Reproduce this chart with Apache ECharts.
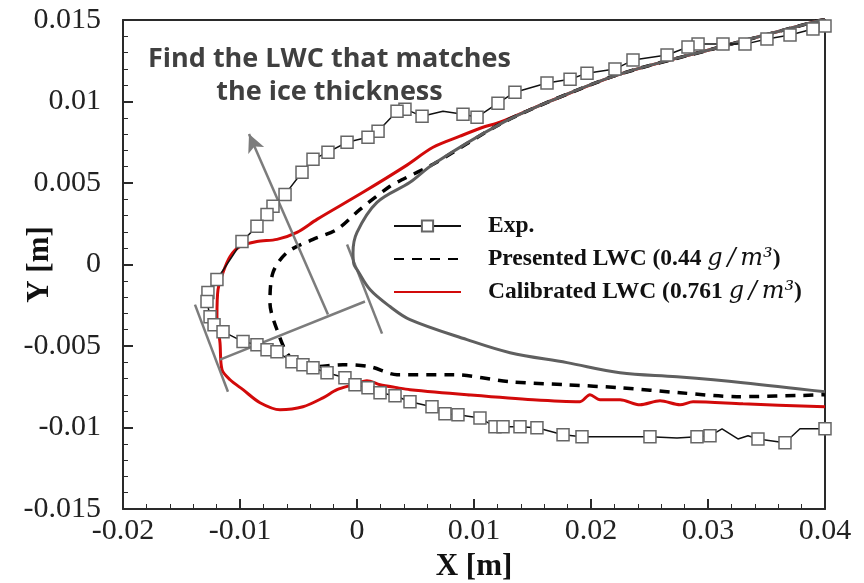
<!DOCTYPE html>
<html>
<head>
<meta charset="utf-8">
<script src="https://cdn.jsdelivr.net/npm/echarts/dist/echarts.min.js"></script>
<style>
html,body{margin:0;padding:0;background:#fff;}
#chart{width:864px;height:583px;}
</style>
</head>
<body>
<div id="chart"></div>
<script>
// Tick labels
const xTickLabels = ['-0.02', '-0.01', '0', '0.01', '0.02', '0.03', '0.04'];
const yTickLabels = ['-0.015', '-0.01', '-0.005', '0', '0.005', '0.01', '0.015'];

// Clean airfoil contour (upper surface TE -> LE -> lower surface TE)
const airfoilX = [0.04, 0.03103, 0.02248, 0.0165, 0.01222, 0.0065, 0.00453, 0.00171, 0, -0.00034, -0.00026, 0, 0.00111, 0.00282, 0.00453, 0.0094, 0.01308, 0.01795, 0.02248, 0.02735, 0.03299, 0.04];
const airfoilY = [0.01506, 0.01334, 0.01168, 0.01002, 0.00861, 0.00615, 0.00504, 0.00381, 0.00197, 0.00074, 0, -0.00031, -0.00154, -0.00258, -0.00338, -0.00461, -0.00541, -0.00602, -0.00664, -0.00689, -0.00725, -0.00781];

// Experimental ice shape; expMark = 1 where a square marker is drawn
const expX = [0.04, 0.03897, 0.03701, 0.03504, 0.03316, 0.03128, 0.02915, 0.02829, 0.0265, 0.02359, 0.02205, 0.01966, 0.01821, 0.01624, 0.0135, 0.01205, 0.01026, 0.00906, 0.00735, 0.00556, 0.0041, 0.00342, 0.0018, 0.00094, -0.00085, -0.00248, -0.00376, -0.0047, -0.00615, -0.00718, -0.00769, -0.00855, -0.00983, -0.01197, -0.01274, -0.01282, -0.01256, -0.01222, -0.01145, -0.00974, -0.00855, -0.00769, -0.00684, -0.00556, -0.00462, -0.00376, -0.00256, -0.00103, -0.00017, 0.00094, 0.00197, 0.00325, 0.00453, 0.00641, 0.00752, 0.00863, 0.01051, 0.01179, 0.01248, 0.01393, 0.01538, 0.01761, 0.01923, 0.02248, 0.02504, 0.02735, 0.02906, 0.03017, 0.0312, 0.03256, 0.03342, 0.03427, 0.03658, 0.03786, 0.04];
const expY = [0.01463, 0.01445, 0.01408, 0.01383, 0.01352, 0.01352, 0.01352, 0.01334, 0.01285, 0.01254, 0.01199, 0.01174, 0.01137, 0.01113, 0.01057, 0.0099, 0.00904, 0.00922, 0.0094, 0.0091, 0.00953, 0.0094, 0.00818, 0.00781, 0.0075, 0.00689, 0.00645, 0.00566, 0.0043, 0.00357, 0.00307, 0.00234, 0.00141, -0.00092, -0.00172, -0.00227, -0.0032, -0.00369, -0.00412, -0.00473, -0.00492, -0.00523, -0.00535, -0.00596, -0.00615, -0.00633, -0.00664, -0.00695, -0.00738, -0.00756, -0.00787, -0.00805, -0.00842, -0.00873, -0.00916, -0.00922, -0.00941, -0.00996, -0.00996, -0.00996, -0.01002, -0.01045, -0.01057, -0.01057, -0.01057, -0.01064, -0.01057, -0.01051, -0.01008, -0.0107, -0.01051, -0.0107, -0.01094, -0.01008, -0.01008];
const expMark = [1, 1, 1, 1, 1, 1, 1, 1, 1, 1, 1, 1, 1, 1, 1, 1, 1, 1, 0, 1, 1, 1, 1, 1, 1, 1, 1, 1, 1, 1, 1, 1, 1, 1, 1, 1, 1, 1, 1, 1, 1, 1, 1, 1, 1, 1, 1, 1, 1, 1, 1, 1, 1, 1, 1, 1, 1, 1, 1, 1, 1, 1, 1, 0, 1, 0, 1, 1, 0, 0, 0, 1, 1, 0, 1];

// Predicted ice shape with the presented LWC (0.44 g/m3)
const presX = [0.04, 0.03103, 0.02248, 0.0165, 0.01222, 0.0065, 0.00393, 0.00282, 0.00026, -0.00171, -0.00376, -0.00598, -0.00718, -0.00744, -0.00684, -0.00573, -0.00376, -0.0012, 0.00111, 0.00342, 0.00821, 0.01308, 0.01795, 0.02248, 0.02761, 0.03248, 0.04];
const presY = [0.01506, 0.01334, 0.01168, 0.01002, 0.00861, 0.00615, 0.00523, 0.0048, 0.00338, 0.00215, 0.00154, 0.00074, -0.00049, -0.00234, -0.004, -0.00566, -0.00627, -0.00615, -0.00627, -0.00676, -0.00676, -0.00719, -0.00738, -0.00756, -0.00787, -0.00811, -0.00799];

// Predicted ice shape with the calibrated LWC (0.761 g/m3)
const calX = [0.04, 0.03103, 0.02248, 0.0165, 0.01222, 0.01077, 0.0088, 0.0065, 0.0041, 0.00051, -0.00342, -0.00513, -0.00684, -0.00855, -0.01, -0.01085, -0.01145, -0.01188, -0.01197, -0.01171, -0.01154, -0.01085, -0.00974, -0.00829, -0.00658, -0.00462, -0.00291, -0.00171, -0.00034, 0.00085, 0.00197, 0.00342, 0.00453, 0.0094, 0.01504, 0.01906, 0.01991, 0.02077, 0.02248, 0.02419, 0.0259, 0.02761, 0.02872, 0.03299, 0.04];
const calY = [0.01506, 0.01334, 0.01168, 0.01002, 0.00873, 0.00842, 0.00787, 0.00719, 0.00602, 0.00443, 0.00277, 0.00197, 0.00154, 0.00141, 0.00111, 0.00049, -0.00049, -0.00154, -0.0032, -0.0048, -0.00645, -0.00707, -0.00768, -0.00848, -0.00891, -0.00873, -0.00818, -0.00768, -0.00738, -0.00713, -0.00738, -0.00756, -0.00768, -0.00799, -0.0083, -0.00842, -0.00799, -0.0083, -0.0083, -0.00861, -0.00836, -0.00861, -0.00842, -0.00855, -0.00873];

// Guide lines: thickness arrow, its base line, and the two tangents
const arrowFrom = [-0.00248, -0.00307];
const arrowTo = [-0.00923, 0.0080];
const guideLines = [
  [[-0.01171, -0.00584], [0.00068, -0.00227]],
  [[-0.01385, -0.00246], [-0.01103, -0.00781]],
  [[-0.00085, 0.00123], [0.00214, -0.00424]]
];

const seriesNames = ['Exp.', 'Presented LWC (0.44 g/m³)', 'Calibrated LWC (0.761 g/m³)'];
const legendParts = {
  'Exp.': ['Exp.', '', ''],
  'Presented LWC (0.44 g/m³)': ['Presented LWC (0.44 ', 'g\u2009/\u2009m³', ')'],
  'Calibrated LWC (0.761 g/m³)': ['Calibrated LWC (0.761 ', 'g\u2009/\u2009m³', ')']
};

const pairs = (xs, ys) => xs.map((x, i) => [x, ys[i]]);
const SERIF = '"Liberation Serif", "Times New Roman", serif';
const AXIS_COLOR = '#2a2a2a';

const chart = echarts.init(document.getElementById('chart'), null, { renderer: 'canvas' });

const markLineData = [
  [{ coord: arrowFrom }, { coord: arrowTo, symbol: 'arrow', symbolSize: [13, 18] }]
].concat(guideLines.map(l => [{ coord: l[0] }, { coord: l[1] }]));

const xMin = -0.02, xInt = 0.01;
const yMin = -0.015, yInt = 0.005;

const option = {
  animation: false,
  backgroundColor: '#ffffff',
  grid: { left: 123, right: 39, top: 20, bottom: 74, containLabel: false, outerBoundsMode: 'none' },
  xAxis: [{
    type: 'value', min: xMin, max: 0.04, interval: xInt,
    name: 'X [m]', nameLocation: 'middle', nameGap: 42, nameMoveOverlap: false,
    nameTextStyle: { fontFamily: SERIF, fontWeight: 'bold', fontSize: 31, color: '#111' },
    axisLine: { show: true, onZero: false, lineStyle: { color: AXIS_COLOR, width: 2 } },
    axisTick: { show: true, inside: true, length: 10, lineStyle: { color: AXIS_COLOR, width: 2 } },
    minorTick: { show: true, splitNumber: 5, length: 5, lineStyle: { color: AXIS_COLOR, width: 1 } },
    splitLine: { show: false },
    axisLabel: {
      fontFamily: SERIF, fontSize: 30, color: '#222', margin: 7,
      formatter: v => xTickLabels[Math.round((v - xMin) / xInt)]
    }
  }, {
    type: 'value', position: 'top', min: xMin, max: 0.04, interval: xInt,
    axisLine: { show: true, onZero: false, lineStyle: { color: AXIS_COLOR, width: 2 } },
    axisTick: { show: false }, axisLabel: { show: false }, splitLine: { show: false }
  }],
  yAxis: [{
    type: 'value', min: yMin, max: 0.015, interval: yInt,
    name: 'Y [m]', nameLocation: 'middle', nameGap: 68, nameRotate: 90, nameMoveOverlap: false,
    nameTextStyle: { fontFamily: SERIF, fontWeight: 'bold', fontSize: 31, color: '#111' },
    axisLine: { show: true, onZero: false, lineStyle: { color: AXIS_COLOR, width: 2 } },
    axisTick: { show: true, inside: true, length: 10, lineStyle: { color: AXIS_COLOR, width: 2 } },
    minorTick: { show: true, splitNumber: 5, length: 5, lineStyle: { color: AXIS_COLOR, width: 1 } },
    splitLine: { show: false },
    axisLabel: {
      fontFamily: SERIF, fontSize: 30, color: '#222', margin: 22,
      formatter: v => yTickLabels[Math.round((v - yMin) / yInt)]
    }
  }, {
    type: 'value', position: 'right', min: yMin, max: 0.015, interval: yInt,
    axisLine: { show: true, onZero: false, lineStyle: { color: AXIS_COLOR, width: 2 } },
    axisTick: { show: false }, axisLabel: { show: false }, splitLine: { show: false }
  }],
  legend: {
    orient: 'vertical', left: 393, top: 214, padding: 0,
    itemWidth: 67, itemHeight: 14, itemGap: 9,
    selectedMode: false,
    data: [
      { name: seriesNames[0] },
      { name: seriesNames[1], itemStyle: { opacity: 0 } },
      { name: seriesNames[2], itemStyle: { opacity: 0 } }
    ],
    formatter: name => {
      const p = legendParts[name];
      return '{t|' + p[0] + '}' + (p[1] ? '{u|' + p[1] + '}{t|' + p[2] + '}' : '');
    },
    textStyle: {
      padding: [0, 0, 0, 22],
      rich: {
        t: { fontFamily: SERIF, fontWeight: 'bold', fontSize: 23.5, color: '#111', lineHeight: 24 },
        u: { fontFamily: '"DejaVu Serif", serif', fontStyle: 'italic', fontSize: 24, color: '#111', lineHeight: 24 }
      }
    }
  },
  graphic: [{
    type: 'text', left: 148, top: 43, z: 10,
    style: {
      text: 'Find the LWC that matches\nthe ice thickness',
      fontFamily: '"Open Sans", sans-serif', fontWeight: 'bold', fontSize: 27,
      lineHeight: 33, fill: '#404040', textAlign: 'center'
    }
  }],
  series: [
    {
      name: seriesNames[2], type: 'line', z: 3,
      data: pairs(calX, calY), smooth: 0.3, symbol: 'none',
      lineStyle: { color: '#d20a0a', width: 3 }, itemStyle: { color: '#d20a0a' }
    },
    {
      name: seriesNames[1], type: 'line', z: 4,
      data: pairs(presX, presY), smooth: 0.3, symbol: 'none',
      lineStyle: { color: '#000', width: 3.5, type: [10, 8] }, itemStyle: { color: '#000' }
    },
    {
      name: 'airfoil', type: 'line', z: 5,
      data: pairs(airfoilX, airfoilY), smooth: 0.35, symbol: 'none',
      lineStyle: { color: '#5f5f5f', width: 3 },
      markLine: {
        silent: true, symbol: ['none', 'none'], precision: 6,
        label: { show: false }, emphasis: { disabled: true },
        lineStyle: { color: '#7c7c7c', width: 2.5, type: 'solid' },
        data: markLineData
      }
    },
    {
      name: seriesNames[0], type: 'line', z: 6,
      data: expX.map((x, i) => ({ value: [x, expY[i]], symbol: expMark[i] ? 'rect' : 'none' })),
      symbol: 'rect', symbolSize: 12, showAllSymbol: true,
      lineStyle: { color: '#111', width: 1.5 },
      itemStyle: { color: '#fff', borderColor: '#666', borderWidth: 1.5 }
    }
  ]
};

chart.setOption(option);
</script>
</body>
</html>
